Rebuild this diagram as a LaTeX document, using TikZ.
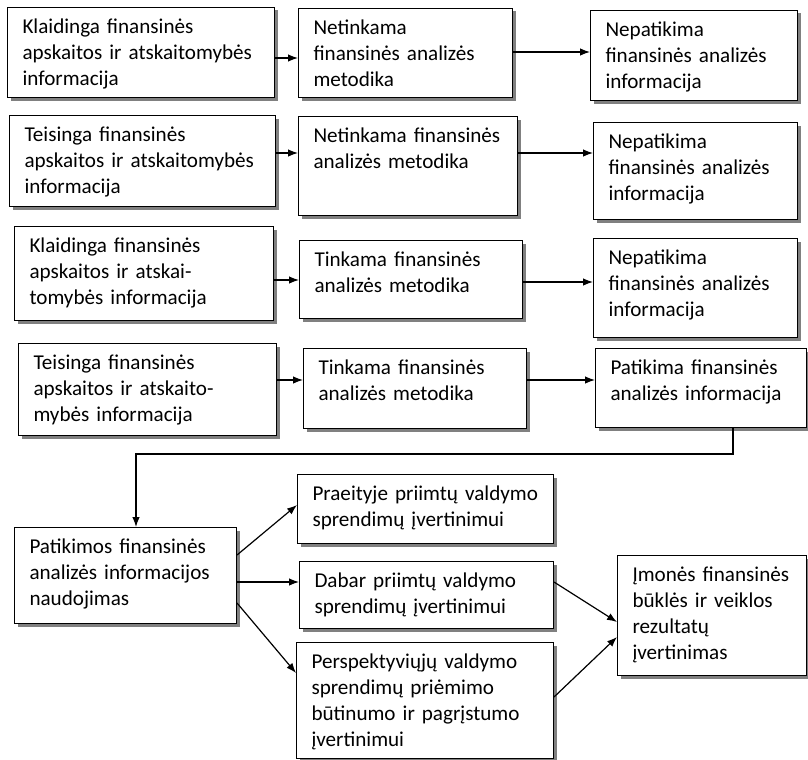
\documentclass[tikz,border=0pt]{standalone}
\usepackage{fontspec}
\setmainfont{Carlito}
\usetikzlibrary{arrows.meta, shadows}

\begin{document}
\begin{tikzpicture}[x=1bp, y=-1bp,
        box/.style={draw, line width=1bp, fill=white, anchor=north west, align=left,
            inner xsep=15bp, inner ysep=7bp, text height=19bp,
            font=\fontsize{21.2}{26}\selectfont,
            drop shadow={shadow xshift=3bp, shadow yshift=-3bp, fill=gray, opacity=1}},
        arr/.style={-{Latex[length=10bp, width=7.5bp]}, line width=1.2bp}]
        \useasboundingbox (0,0) rectangle (808,760);

        \node[box, text width=237bp, text depth=57bp] (a1) at (7,7) {Klaidinga finansinės\\apskaitos ir atskaitomybės\\informacija};
        \node[box, text width=184bp, text depth=56bp] (b1) at (298,8) {Netinkama\\finansinės analizės\\metodika};
        \node[box, text width=177bp, text depth=57bp] (c1) at (590,10) {Nepatikima\\finansinės analizės\\informacija};

        \node[box, text width=236bp, text depth=58bp] (a2) at (9,115) {Teisinga finansinės\\apskaitos ir atskaitomybės\\informacija};
        \node[box, text width=189bp, text depth=66bp] (b2) at (298,116) {Netinkama finansinės\\analizės metodika};
        \node[box, text width=174bp, text depth=64bp] (c2) at (593,122) {Nepatikima\\finansinės analizės\\informacija};

        \node[box, text width=229bp, text depth=61bp] (a3) at (14,226) {Klaidinga finansinės\\apskaitos ir atskai-\\tomybės informacija};
        \node[box, text width=193bp, text depth=45bp] (b3) at (299,240) {Tinkama finansinės\\analizės metodika};
        \node[box, text width=174bp, text depth=66bp] (c3) at (593,238) {Nepatikima\\finansinės analizės\\informacija};

        \node[box, text width=228bp, text depth=59bp] (a4) at (18,343) {Teisinga finansinės\\apskaitos ir atskaito-\\mybės informacija};
        \node[box, text width=193bp, text depth=47bp] (b4) at (303,348) {Tinkama finansinės\\analizės metodika};
        \node[box, text width=181bp, text depth=46bp] (c4) at (595,348) {Patikima finansinės\\analizės informacija};

        \node[box, text width=192bp, text depth=63bp] (d) at (14,527) {Patikimos finansinės\\analizės informacijos\\naudojimas};
        \node[box, text width=226bp, text depth=36bp] (p1) at (297,474) {Praeityje priimtų valdymo\\sprendimų įvertinimui};
        \node[box, text width=224bp, text depth=34bp] (p2) at (299,561) {Dabar priimtų valdymo\\sprendimų įvertinimui};
        \node[box, text width=227bp, text depth=83bp] (p3) at (296,642) {Perspektyviųjų valdymo\\sprendimų priėmimo\\būtinumo ir pagrįstumo\\įvertinimui};
        \node[box, text width=159bp, text depth=87bp] (e) at (617,555) {Įmonės finansinės\\būklės ir veiklos\\rezultatų\\įvertinimas};

        \path[arr] (a1.east |- 0,58) edge (b1.west |- 0,58);
        \path[arr] (b1.east |- 0,52) edge (c1.west |- 0,52);
        \path[arr] (a2.east |- 0,153) edge (b2.west |- 0,153);
        \path[arr] (b2.east |- 0,153) edge (c2.west |- 0,153);
        \path[arr] (a3.east |- 0,280) edge (b3.west |- 0,280);
        \path[arr] (b3.east |- 0,282) edge (c3.west |- 0,282);
        \path[arr] (a4.east |- 0,380) edge (b4.west |- 0,380);
        \path[arr] (b4.east |- 0,380) edge (c4.west |- 0,380);
        \draw[arr] (c4.south -| 733,0) -- ++(0,26) -| (d.north -| 136,0);

        \path[arr] (d.east |- 0,555) edge (p1.west |- 0,505);
        \path[arr] (d.east |- 0,582) edge (p2.west |- 0,582);
        \path[arr] (d.east |- 0,603) edge (p3.west |- 0,673);
        \path[arr] (p2.east |- 0,582) edge (e.west |- 0,622);
        \path[arr] (p3.east |- 0,697) edge (e.west |- 0,637);
    \end{tikzpicture}
\end{document}
